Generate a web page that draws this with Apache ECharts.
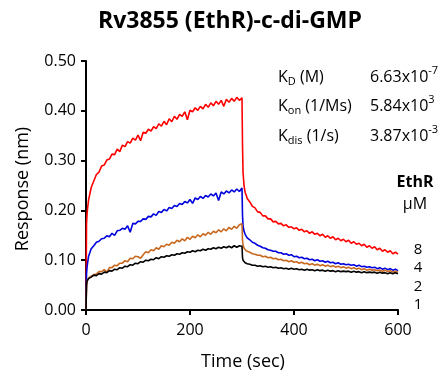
<!DOCTYPE html>
<html><head><meta charset="utf-8">
<script src="https://cdn.jsdelivr.net/npm/echarts@6/dist/echarts.min.js"></script>
<style>html,body{margin:0;padding:0;background:#fff}#c{width:445px;height:372px}</style>
</head><body><div id="c"></div>
<script>
const times = [0,1,2,3,5,7,
10,15,20,25,30,35,40,45,50,55,60,65,70,75,80,85,90,95,100,105,110,115,120,125,130,135,140,145,150,155,
160,165,170,175,180,185,190,195,200,205,210,215,220,225,230,235,240,245,250,255,260,265,270,275,280,285,290,295,300,
301,302,304,306,308,
310,315,320,325,330,335,340,345,350,355,360,365,370,375,380,385,390,395,400,405,410,415,420,425,430,435,440,445,450,455,
460,465,470,475,480,485,490,495,500,505,510,515,520,525,530,535,540,545,550,555,560,565,570,575,580,585,590,595,600];

const red8uM = [0,0.172,0.193,0.204,0.221,0.231,
0.246,0.259,0.272,0.277,0.289,0.291,0.301,0.303,0.313,0.312,
0.323,0.318,0.331,0.328,0.338,0.335,0.345,0.341,0.351,0.340,
0.357,0.355,0.363,0.359,0.368,0.364,0.374,0.369,0.379,0.372,
0.384,0.378,0.389,0.383,0.393,0.389,0.398,0.382,0.401,0.398,
0.406,0.401,0.409,0.404,0.413,0.407,0.416,0.410,0.419,0.413,
0.421,0.409,0.423,0.417,0.425,0.419,0.427,0.421,0.426,
0.330,0.276,0.249,0.236,0.231,
0.224,0.217,0.208,0.205,0.197,0.196,0.189,0.189,0.183,0.183,
0.177,0.178,0.173,0.174,0.169,0.171,0.166,0.167,0.163,0.165,
0.160,0.162,0.157,0.159,0.154,0.157,0.152,0.154,0.149,0.152,
0.146,0.149,0.144,0.147,0.141,0.144,0.139,0.142,0.137,0.140,
0.134,0.137,0.132,0.134,0.129,0.132,0.126,0.129,0.124,0.127,
0.121,0.124,0.118,0.121,0.116,0.119,0.113,0.116,0.112];

const blue4uM = [0,0.072,0.086,0.094,0.108,0.114,
0.123,0.129,0.136,0.138,0.143,0.144,0.149,0.147,0.154,0.150,
0.159,0.160,0.164,0.162,0.169,0.156,0.174,0.173,0.178,0.178,
0.183,0.182,0.188,0.187,0.193,0.190,0.198,0.196,0.202,0.199,
0.206,0.204,0.210,0.208,0.214,0.212,0.218,0.215,0.222,0.214,
0.225,0.222,0.228,0.224,0.230,0.227,0.233,0.229,0.235,0.220,
0.237,0.233,0.239,0.235,0.241,0.237,0.243,0.238,0.245,
0.190,0.169,0.158,0.152,0.149,
0.145,0.141,0.136,0.134,0.130,0.128,0.125,0.124,0.121,0.120,
0.118,0.118,0.115,0.115,0.112,0.113,0.110,0.111,0.107,0.108,
0.105,0.106,0.103,0.104,0.101,0.102,0.099,0.101,0.098,0.099,
0.096,0.098,0.095,0.096,0.093,0.095,0.092,0.093,0.091,0.092,
0.090,0.091,0.088,0.090,0.087,0.088,0.086,0.087,0.085,0.086,
0.083,0.085,0.082,0.084,0.081,0.083,0.080,0.082,0.079];

const orange2uM = [0,0.046,0.056,0.061,0.062,0.066,
0.066,0.071,0.072,0.077,0.077,0.081,0.076,0.085,0.085,0.090,
0.089,0.094,0.094,0.099,0.097,0.104,0.103,0.108,0.107,0.104,
0.111,0.117,0.115,0.121,0.119,0.125,0.122,0.129,0.127,0.132,
0.130,0.136,0.134,0.140,0.137,0.143,0.139,0.146,0.142,0.148,
0.145,0.151,0.147,0.153,0.150,0.156,0.152,0.158,0.155,0.161,
0.157,0.163,0.159,0.166,0.162,0.168,0.164,0.171,0.173,
0.140,0.130,0.124,0.121,0.119,
0.117,0.116,0.113,0.112,0.110,0.110,0.107,0.108,0.105,0.106,
0.103,0.104,0.101,0.102,0.099,0.100,0.097,0.099,0.096,0.097,
0.094,0.096,0.093,0.094,0.091,0.093,0.090,0.092,0.089,0.091,
0.088,0.090,0.087,0.089,0.086,0.088,0.085,0.087,0.084,0.086,
0.083,0.085,0.082,0.084,0.081,0.083,0.080,0.082,0.080,0.081,
0.079,0.080,0.078,0.080,0.077,0.079,0.076,0.078,0.076];

const black1uM = [0,0.051,0.058,0.062,0.063,0.066,
0.066,0.070,0.069,0.073,0.072,0.076,0.075,0.079,0.078,0.082,
0.081,0.085,0.084,0.088,0.087,0.091,0.090,0.094,0.093,0.097,
0.096,0.100,0.099,0.102,0.101,0.105,0.103,0.107,0.106,0.109,
0.108,0.111,0.110,0.113,0.112,0.115,0.114,0.117,0.116,0.119,
0.117,0.120,0.119,0.122,0.120,0.123,0.122,0.125,0.123,0.126,
0.124,0.127,0.125,0.128,0.125,0.129,0.126,0.129,0.128,
0.105,0.100,0.097,0.095,0.094,
0.093,0.092,0.090,0.090,0.088,0.089,0.087,0.088,0.086,0.087,
0.085,0.086,0.084,0.085,0.083,0.084,0.082,0.084,0.082,0.083,
0.081,0.082,0.080,0.082,0.080,0.081,0.079,0.081,0.079,0.080,
0.078,0.080,0.078,0.079,0.077,0.079,0.077,0.078,0.077,0.078,
0.076,0.078,0.076,0.077,0.075,0.077,0.075,0.076,0.075,0.076,
0.074,0.076,0.074,0.075,0.073,0.075,0.073,0.075,0.073];

const seriesNames = ['8','4','2','1'];
const seriesColors = ['#ff0000','#0000dd','#c8681e','#000000'];
const seriesValues = [red8uM, blue4uM, orange2uM, black1uM];
const xTicks = [0,200,400,600];
const yTicks = ['0.00','0.10','0.20','0.30','0.40','0.50'];

const FONT = 'Open Sans';
const chart = echarts.init(document.getElementById('c'));
const pairs = v => times.map((t,i)=>[t, v[i]]);

chart.setOption({
  animation:false,
  backgroundColor:'#fff',
  title:{text:'Rv3855 (EthR)-c-di-GMP', left:225, textAlign:'center', top:5,
    textStyle:{fontFamily:FONT, fontWeight:'bold', fontSize:23, color:'#000'}},
  grid:{left:86, right:47, top:61, bottom:62},
  xAxis:{type:'value', min:0, max:600, interval:200,
    axisLine:{lineStyle:{color:'#000', width:2}},
    axisTick:{show:true, inside:false, length:5, lineStyle:{color:'#000', width:2}},
    axisLabel:{fontFamily:FONT, fontSize:16, color:'#000', margin:12},
    splitLine:{show:false}},
  yAxis:{type:'value', min:0, max:0.5, interval:0.1,
    axisLine:{show:true, lineStyle:{color:'#000', width:2}},
    axisTick:{show:true, inside:false, length:5, lineStyle:{color:'#000', width:2}},
    axisLabel:{fontFamily:FONT, fontSize:16, color:'#000', margin:10,
      formatter:(v)=>yTicks[Math.round(v*10)]},
    splitLine:{show:false}},
  series: seriesValues.map((v,i)=>({
    name:seriesNames[i], type:'line', data:pairs(v), showSymbol:false, symbol:'none',
    lineStyle:{color:seriesColors[i], width:1.6}, z:2+i
  })),
  graphic:[
    {type:'text', rotation:Math.PI/2, style:{text:'Response (nm)', fontFamily:FONT, fontSize:18, fill:'#000', align:'center', verticalAlign:'middle'}, position:[23,189]},
    {type:'text', position:[243,362], style:{text:'Time (sec)', fontFamily:FONT, fontSize:18, fill:'#000', align:'center', verticalAlign:'middle'}},
    {type:'text', position:[278,77], style:{text:'{m|K}{s|D}{m| (M)}', verticalAlign:'middle',
      rich:{m:{fontFamily:FONT,fontSize:16,fill:'#000',lineHeight:20},s:{fontFamily:FONT,fontSize:11,fill:'#000',lineHeight:11,padding:[10,0,0,0]}}}},
    {type:'text', position:[278,106], style:{text:'{m|K}{s|on}{m| (1/Ms)}', verticalAlign:'middle',
      rich:{m:{fontFamily:FONT,fontSize:16,fill:'#000',lineHeight:20},s:{fontFamily:FONT,fontSize:11,fill:'#000',lineHeight:11,padding:[10,0,0,0]}}}},
    {type:'text', position:[278,136], style:{text:'{m|K}{s|dis}{m| (1/s)}', verticalAlign:'middle',
      rich:{m:{fontFamily:FONT,fontSize:16,fill:'#000',lineHeight:20},s:{fontFamily:FONT,fontSize:11,fill:'#000',lineHeight:11,padding:[10,0,0,0]}}}},
    {type:'text', position:[370,77], style:{text:'{m|6.63x10}{p|-7}', verticalAlign:'middle',
      rich:{m:{fontFamily:FONT,fontSize:16,fill:'#000',lineHeight:20},p:{fontFamily:FONT,fontSize:11,fill:'#000',lineHeight:11,padding:[0,0,12,0]}}}},
    {type:'text', position:[370,106], style:{text:'{m|5.84x10}{p|3}', verticalAlign:'middle',
      rich:{m:{fontFamily:FONT,fontSize:16,fill:'#000',lineHeight:20},p:{fontFamily:FONT,fontSize:11,fill:'#000',lineHeight:11,padding:[0,0,12,0]}}}},
    {type:'text', position:[370,136], style:{text:'{m|3.87x10}{p|-3}', verticalAlign:'middle',
      rich:{m:{fontFamily:FONT,fontSize:16,fill:'#000',lineHeight:20},p:{fontFamily:FONT,fontSize:11,fill:'#000',lineHeight:11,padding:[0,0,12,0]}}}},
    {type:'text', position:[415,182], style:{text:'EthR', fontFamily:FONT, fontWeight:'bold', fontSize:16, fill:'#000', align:'center', verticalAlign:'middle'}},
    {type:'text', position:[415,204], style:{text:'μM', fontFamily:FONT, fontSize:16, fill:'#000', align:'center', verticalAlign:'middle'}},
    {type:'text', position:[418,250], style:{text:seriesNames[0], fontFamily:FONT, fontSize:15, fill:'#000', align:'center', verticalAlign:'middle'}},
    {type:'text', position:[418,268], style:{text:seriesNames[1], fontFamily:FONT, fontSize:15, fill:'#000', align:'center', verticalAlign:'middle'}},
    {type:'text', position:[418,287], style:{text:seriesNames[2], fontFamily:FONT, fontSize:15, fill:'#000', align:'center', verticalAlign:'middle'}},
    {type:'text', position:[418,305], style:{text:seriesNames[3], fontFamily:FONT, fontSize:15, fill:'#000', align:'center', verticalAlign:'middle'}}
  ]
});
</script></body></html>
